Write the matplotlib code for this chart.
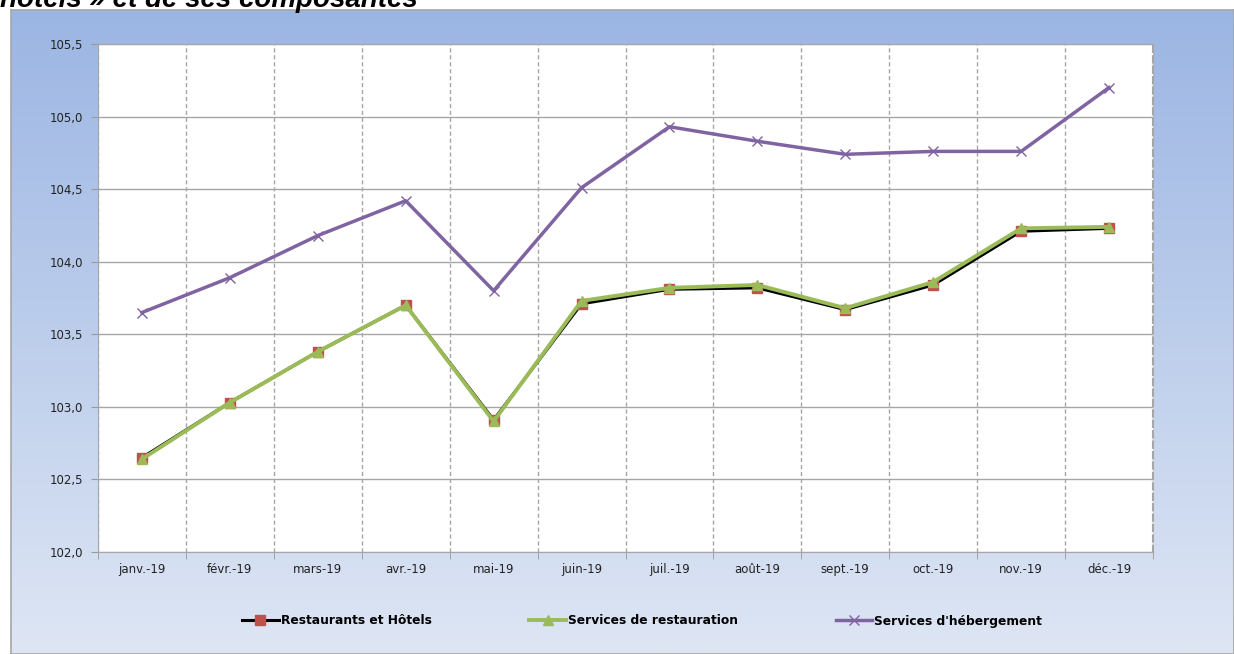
import numpy as np
import matplotlib.pyplot as plt

months = ['janv.-19', 'févr.-19', 'mars-19', 'avr.-19', 'mai-19', 'juin-19',
          'juil.-19', 'août-19', 'sept.-19', 'oct.-19', 'nov.-19', 'déc.-19']
restaurants_hotels = [102.65, 103.03, 103.38, 103.70, 102.91, 103.71,
                      103.81, 103.82, 103.67, 103.84, 104.21, 104.23]
restauration = [102.64, 103.03, 103.38, 103.70, 102.90, 103.73,
                103.82, 103.84, 103.68, 103.86, 104.23, 104.24]
hebergement = [103.65, 103.89, 104.18, 104.42, 103.80, 104.51,
               104.93, 104.83, 104.74, 104.76, 104.76, 105.20]
series_names = ['Restaurants et Hôtels', 'Services de restauration',
                "Services d'hébergement"]
yticks = [102.0, 102.5, 103.0, 103.5, 104.0, 104.5, 105.0, 105.5]

W, H = 1234, 654
fig = plt.figure(figsize=(W / 100, H / 100), dpi=100)
fig.patch.set_facecolor('white')

# blue gradient background of the chart frame
bg = fig.add_axes([11 / W, 0, 1 - 11 / W, (H - 10) / H])
top = np.array([155, 181, 227]) / 255
bot = np.array([222, 230, 244]) / 255
t = np.linspace(0, 1, 256)[:, None]
grad = top[None, None, :] * (1 - t[:, :, None]) + bot[None, None, :] * t[:, :, None]
grad = np.repeat(grad, 2, axis=1)
bg.imshow(grad, aspect='auto', extent=[0, 1, 0, 1])
bg.set_xticks([])
bg.set_yticks([])
for s in bg.spines.values():
    s.set_color('#a6a6a6')
    s.set_linewidth(1.2)

# title is cut at the top of the picture, as in the source
fig.text(0, 1 - 7 / H, 'hôtels » et de ses composantes', fontsize=20,
         fontweight='bold', fontstyle='italic', family='Liberation Sans',
         ha='left', va='baseline')

ax = fig.add_axes([98 / W, 1 - 552 / H, (1153 - 98) / W, (552 - 44) / H])
ax.set_facecolor('white')
x = np.arange(len(months))

ax.plot(x, restaurants_hotels, color='black', lw=2.2, marker='s', ms=7.5,
        mfc='#c0504d', mec='#c0504d', label=series_names[0], zorder=3)
ax.plot(x, restauration, color='#9bbb59', lw=2.8, marker='^', ms=7.5,
        mfc='#9bbb59', mec='#9bbb59', label=series_names[1], zorder=4)
ax.plot(x, hebergement, color='#8064a2', lw=2.5, marker='x', ms=7.5,
        mew=1.0, label=series_names[2], zorder=3)

ax.set_xlim(-0.5, 11.5)
ax.set_ylim(102.0, 105.5)
ax.set_yticks(yticks)
ax.set_yticklabels([f'{v:.1f}'.replace('.', ',') for v in yticks],
                   fontsize=8.5, color='#222222')
ax.set_xticks(x)
ax.set_xticklabels(months, fontsize=8.5, color='#222222')
ax.tick_params(axis='x', length=0, pad=8)
ax.set_xticks(np.arange(-0.5, 12, 1), minor=True)
ax.tick_params(axis='x', which='minor', length=5, color='#999999')
ax.tick_params(axis='y', length=5, color='#999999', pad=6)

ax.grid(axis='y', color='#a6a6a6', lw=1, ls='-')
ax.grid(axis='x', which='minor', color='#a6a6a6', lw=1, ls=(0, (3, 2)))
ax.set_axisbelow(True)
for side in ['left', 'bottom', 'top']:
    ax.spines[side].set_color('#a6a6a6')
ax.spines['right'].set_color('#a6a6a6')
ax.spines['right'].set_linestyle((0, (3, 2)))
ax.spines['right'].set_linewidth(1.5)

leg = fig.legend(loc='center', bbox_to_anchor=(642 / W, 1 - 621 / H), ncol=3,
                 frameon=False, handlelength=3.0, handletextpad=0.15,
                 columnspacing=8.0, prop={'weight': 'bold', 'size': 8.8})

fig.savefig('out.png', dpi=100)
